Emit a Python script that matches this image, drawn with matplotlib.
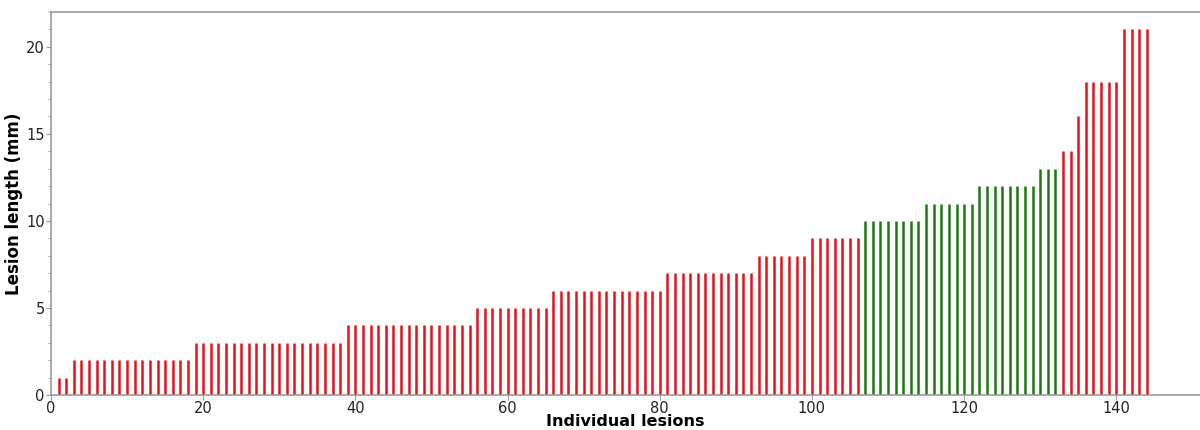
import numpy as np
import matplotlib.pyplot as plt
from matplotlib.ticker import MultipleLocator

# lesion lengths (mm), sorted, one entry per lesion
lengths = ([1] * 2 + [2] * 16 + [3] * 20 + [4] * 17 + [5] * 10 + [6] * 15 +
           [7] * 12 + [8] * 7 + [9] * 7 + [10] * 8 + [11] * 7 + [12] * 8 +
           [13] * 3 + [14] * 2 + [16] * 1 + [18] * 5 + [21] * 4)
# lesions drawn in green (first and last lesion number)
green_range = (107, 132)

lesion_id = np.arange(1, len(lengths) + 1)
lengths = np.array(lengths)
is_green = (lesion_id >= green_range[0]) & (lesion_id <= green_range[1])

fig = plt.figure(figsize=(12, 4.3), dpi=100)
ax = fig.add_axes([0.0425, 0.0814, 0.9575, 0.8906])

ax.vlines(lesion_id[~is_green], 0, lengths[~is_green], color='#e8101a', linewidth=1.8)
ax.vlines(lesion_id[is_green], 0, lengths[is_green], color='#1a7a10', linewidth=1.8)

ax.set_xlim(0, 151)
ax.set_ylim(0, 22)
ax.xaxis.set_major_locator(MultipleLocator(20))
ax.yaxis.set_major_locator(MultipleLocator(5))
ax.yaxis.set_minor_locator(MultipleLocator(1))

for s in ['left', 'bottom', 'top']:
    ax.spines[s].set_color('#999999')
    ax.spines[s].set_linewidth(1.2)
ax.spines['right'].set_visible(False)
ax.tick_params(which='both', colors='#999999', labelcolor='#222222', labelsize=10.5, pad=1)
ax.tick_params(which='major', length=3.5)
ax.tick_params(which='minor', length=2)

ax.set_xlabel('Individual lesions', fontsize=11.5, fontweight='bold')
ax.xaxis.set_label_coords(0.5, -0.05)
ax.set_ylabel('Lesion length (mm)', fontsize=12, fontweight='bold', labelpad=2)

fig.savefig('out.png', dpi=100)
